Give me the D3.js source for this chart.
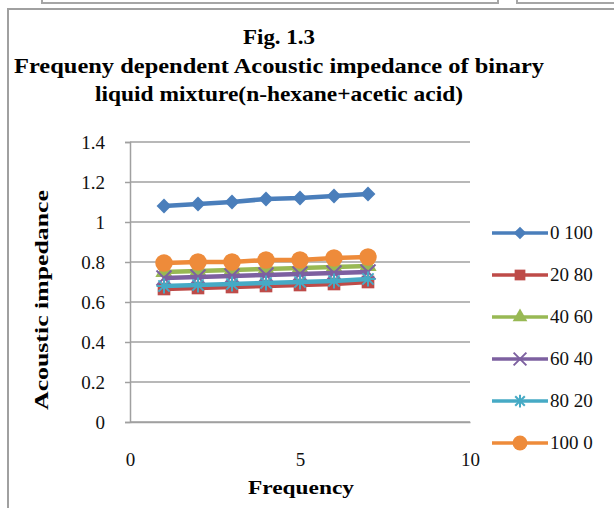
<!DOCTYPE html>
<html><head><meta charset="utf-8">
<script src="https://cdn.jsdelivr.net/npm/d3@7"></script>
<style>body{margin:0;background:#fff}svg{display:block}</style>
</head><body>
<svg id="c" width="614" height="508"></svg>
<script>
const frequency = [1, 2, 3, 4, 5, 6, 7];
const seriesNames = ["0 100", "20 80", "40 60", "60 40", "80 20", "100 0"];
const s0_100 = [1.08, 1.09, 1.10, 1.115, 1.12, 1.13, 1.14];
const s20_80 = [0.665, 0.67, 0.675, 0.68, 0.685, 0.69, 0.70];
const s40_60 = [0.75, 0.755, 0.76, 0.765, 0.77, 0.775, 0.78];
const s60_40 = [0.72, 0.725, 0.73, 0.735, 0.74, 0.745, 0.75];
const s80_20 = [0.68, 0.685, 0.69, 0.695, 0.70, 0.705, 0.715];
const s100_0 = [0.795, 0.80, 0.80, 0.81, 0.81, 0.82, 0.825];
const yTicks = [0, 0.2, 0.4, 0.6, 0.8, 1, 1.2, 1.4];
const xTicks = [0, 5, 10];
const titleLines = ["Fig. 1.3", "Frequeny dependent Acoustic impedance of binary", "liquid mixture(n-hexane+acetic acid)"];

const seriesValues = [s0_100, s20_80, s40_60, s60_40, s80_20, s100_0];
const colors = ["#4a7ebb", "#be4b48", "#98b954", "#7d60a0", "#46aac5", "#ee8b3a"];
const symbols = ["diamond", d3.symbolSquare, d3.symbolTriangle, "x", "star", d3.symbolCircle];

const svg = d3.select("#c");
const serif = "Liberation Serif, Times New Roman, serif";

// frame pieces
svg.append("rect").attr("x", 42).attr("y", -10).attr("width", 456).attr("height", 13)
  .attr("fill", "none").attr("stroke", "#a6a6a6").attr("stroke-width", 2);
svg.append("rect").attr("x", 517).attr("y", -10).attr("width", 120).attr("height", 13)
  .attr("fill", "none").attr("stroke", "#a6a6a6").attr("stroke-width", 2);
svg.append("rect").attr("x", 8).attr("y", 9).attr("width", 640).attr("height", 540)
  .attr("fill", "none").attr("stroke", "#a0a0a0").attr("stroke-width", 2);

// title
const tl = [{y: 44, len: 72}, {y: 73, len: 530}, {y: 101, len: 368}];
titleLines.forEach((t, i) => {
  svg.append("text").attr("x", 279).attr("y", tl[i].y).attr("text-anchor", "middle")
    .attr("font-family", serif).attr("font-weight", "bold").attr("font-size", 21)
    .attr("textLength", tl[i].len).attr("lengthAdjust", "spacingAndGlyphs").text(t);
});

const x = d3.scaleLinear().domain([0, 10]).range([130, 470]);
const y = d3.scaleLinear().domain([0, 1.4]).range([422, 142]);

// gridlines
svg.append("g").selectAll("line").data(yTicks).join("line")
  .attr("x1", x(0)).attr("x2", x(10)).attr("y1", d => y(d)).attr("y2", d => y(d))
  .attr("stroke", "#a0a0a0").attr("stroke-width", 1.5);

// y axis
const ya = svg.append("g").attr("transform", `translate(${x(0)},0)`)
  .call(d3.axisLeft(y).tickValues(yTicks).tickSize(5).tickPadding(20).tickFormat(d3.format("")));
ya.select(".domain").attr("stroke", "#a0a0a0").attr("stroke-width", 1.5);
ya.selectAll(".tick line").attr("stroke", "#a0a0a0").attr("stroke-width", 1.5);
ya.selectAll("text").attr("font-family", serif).attr("font-size", 19).attr("fill", "#111").attr("dy", "0.34em");

// x axis
const xa = svg.append("g").attr("transform", `translate(0,${y(0)})`)
  .call(d3.axisBottom(x).tickValues(xTicks).tickSize(0).tickPadding(31).tickFormat(d3.format("d")));
xa.select(".domain").attr("stroke", "#a0a0a0").attr("stroke-width", 1.5);
xa.selectAll("text").attr("font-family", serif).attr("font-size", 19).attr("fill", "#111").attr("dy", "0.71em");

// axis titles
svg.append("text").attr("x", 301).attr("y", 494).attr("text-anchor", "middle")
  .attr("font-family", serif).attr("font-weight", "bold").attr("font-size", 19)
  .attr("textLength", 106).attr("lengthAdjust", "spacingAndGlyphs").text("Frequency");
svg.append("text").attr("transform", "translate(48,300) rotate(-90)").attr("text-anchor", "middle")
  .attr("font-family", serif).attr("font-weight", "bold").attr("font-size", 19)
  .attr("textLength", 220).attr("lengthAdjust", "spacingAndGlyphs").text("Acoustic impedance");

function drawMarker(g, i, cx, cy, scale) {
  const c = colors[i];
  const s = symbols[i];
  const gg = g.append("g").attr("transform", `translate(${cx},${cy})`);
  if (s === "star" || s === "x") {
    const r = 7.5 * scale;
    const segs = s === "x" ? [[-r, -r, r, r], [-r, r, r, -r]]
      : [[-r, 0, r, 0], [-r * 0.75, -r * 0.75, r * 0.75, r * 0.75], [-r * 0.75, r * 0.75, r * 0.75, -r * 0.75], [0, -r, 0, r]];
    segs.forEach(p => gg.append("line").attr("x1", p[0]).attr("y1", p[1]).attr("x2", p[2]).attr("y2", p[3])
      .attr("stroke", c).attr("stroke-width", 2));
    return;
  }
  if (s === "diamond") {
    gg.append("path").attr("transform", "rotate(45)")
      .attr("d", d3.symbol().type(d3.symbolSquare).size(110 * scale * scale)()).attr("fill", c);
    return;
  }
  const sizes = {1: 160, 2: 130, 5: 240};
  gg.append("path").attr("d", d3.symbol().type(s).size(sizes[i] * scale * scale)()).attr("fill", c);
}

const line = d3.line().x((d, j) => x(frequency[j])).y(d => y(d));
seriesValues.forEach((vals, i) => {
  const g = svg.append("g");
  g.append("path").attr("d", line(vals)).attr("fill", "none")
    .attr("stroke", colors[i]).attr("stroke-width", 4.5).attr("stroke-linejoin", "round");
  vals.forEach((v, j) => drawMarker(g, i, x(frequency[j]), y(v), 1));
});

// legend
const legY = d3.scaleLinear().domain([0, 5]).range([233, 443]);
seriesNames.forEach((n, i) => {
  const g = svg.append("g");
  const ly = legY(i);
  g.append("line").attr("x1", 492).attr("x2", 548).attr("y1", ly).attr("y2", ly)
    .attr("stroke", colors[i]).attr("stroke-width", 3.5);
  drawMarker(g, i, 520, ly, 0.85);
  g.append("text").attr("x", 550).attr("y", ly).attr("dy", "0.34em")
    .attr("font-family", serif).attr("font-size", 19).attr("fill", "#111").text(n);
});
</script>
</body></html>
